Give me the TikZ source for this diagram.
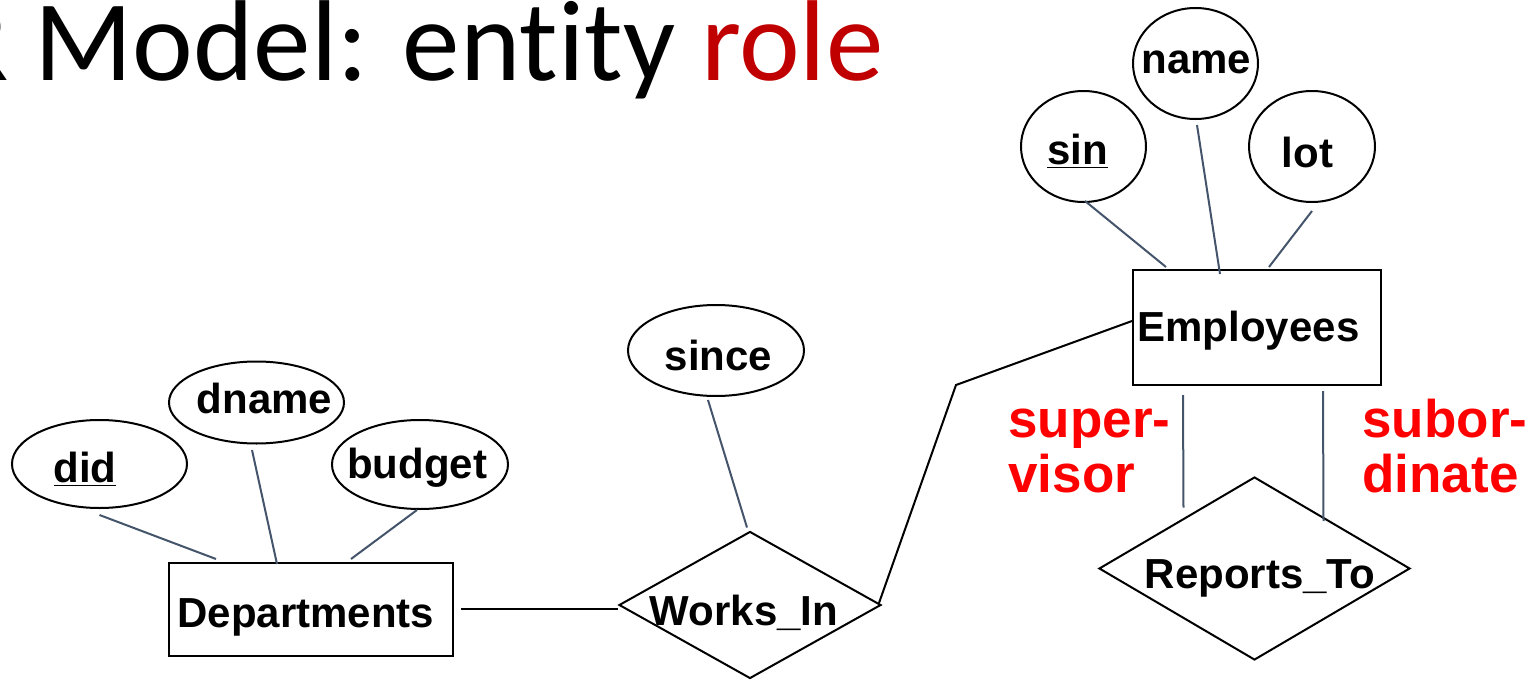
\documentclass[tikz,border=0pt]{standalone}
\usepackage{fontspec}
\setmainfont{Liberation Sans}
\newfontfamily\titlefont{Carlito}[Ligatures=NoCommon]
\usetikzlibrary{shapes.geometric,calc}

\definecolor{slate}{HTML}{44546A}
\definecolor{titlered}{HTML}{C00000}
\definecolor{rolered}{HTML}{FF0000}

% label inside a shape, moved sideways by #1 and raised by #2
\newcommand{\erlbl}[3]{\makebox[0pt]{\hspace*{#1}\raisebox{#2}{#3}}}

\begin{document}
\begin{tikzpicture}[x=0.5pt,y=-0.5pt,
	ertext/.style={font=\fontsize{21}{25}\selectfont\bfseries,text height=18pt,text depth=0pt,inner sep=0pt},
	entity/.style={ertext,draw,line width=1pt},
	attrib/.style={ertext,draw,ellipse,line width=1pt},
	relship/.style={ertext,draw,diamond,line width=1pt},
	attline/.style={slate,line width=1pt},
	roletext/.style={anchor=base west,align=left,inner sep=0pt,text=rolered,font=\fontsize{26.5}{27.5}\selectfont\bfseries}]
	\useasboundingbox (0,0) rectangle (1539,680);

	\node[anchor=base east,inner sep=0pt,font=\titlefont\fontsize{57.5}{60}\selectfont] (title) at (884,80) {R Model: entity \textcolor{titlered}{role}};

	% entities and relationships
	\node[entity,minimum width=142pt,minimum height=46.5pt] (dept) at (311,609.5) {\erlbl{-5pt}{0pt}{Departments}};
	\node[entity,minimum width=124pt,minimum height=57.5pt] (emp) at (1257,327.5) {\erlbl{-8.5pt}{2.25pt}{Employees}};
	\node[relship,minimum width=131pt,minimum height=73.5pt] (works) at (750,605) {\erlbl{-6pt}{-1pt}{Works\_In}};
	\node[relship,minimum width=155.5pt,minimum height=91.5pt] (rep) at (1254.5,568.5) {\erlbl{5.5pt}{-0.75pt}{Reports\_To}};

	% attributes
	\node[attrib,minimum width=87.5pt,minimum height=44pt] (did) at (99.5,464) {\erlbl{-14.5pt}{0pt}{\underline{did}}};
	\node[attrib,minimum width=87.5pt,minimum height=41pt] (dname) at (256.5,402.5) {\erlbl{8pt}{3.75pt}{dname}};
	\node[attrib,minimum width=88pt,minimum height=44.5pt] (budget) at (420,464.5) {\erlbl{-3pt}{2.25pt}{budget}};
	\node[attrib,minimum width=88pt,minimum height=45.5pt] (since) at (716,350.5) {\erlbl{2.5pt}{-0.75pt}{since}};
	\node[attrib,minimum width=62.5pt,minimum height=55.5pt] (sin) at (1083.5,146.5) {\erlbl{-6pt}{0pt}{\underline{sin}}};
	\node[attrib,minimum width=62.5pt,minimum height=55.5pt] (name) at (1195.5,63.5) {\erlbl{1pt}{3.75pt}{name}};
	\node[attrib,minimum width=63pt,minimum height=55.5pt] (lot) at (1312,146.5) {\erlbl{-4.5pt}{-1.25pt}{lot}};

	% roles (base is the second line)
	\node[roletext] (super) at (1008,492) {super-\\visor};
	\node[roletext] (subor) at (1362,492) {subor-\\dinate};

	% attribute links
	\draw[attline] ($(did.south)+(0,6)$) -- ($(dept.north west)+(48,-3)$);
	\draw[attline] ($(dname.south)+(-4.5,5.5)$) -- ($(dept.north)+(-34,2)$);
	\draw[attline] ($(budget.south)+(-3,0)$) -- ($(dept.north east)+(-103,-3)$);
	\draw[attline] ($(since.south)+(-8,3)$) -- ($(works.north)+(-3,-3)$);
	\draw[attline] ($(sin.south)+(1.5,-2)$) -- ($(emp.north west)+(34,-2)$);
	\draw[attline] ($(name.south)+(1.5,5)$) -- ($(emp.north)+(-37,5)$);
	\draw[attline] ($(lot.south)+(0,8)$) -- ($(emp.north)+(12,-2)$);

	% relationship links
	\draw[line width=1pt] ($(dept.east)+(7,-1)$) coordinate (dw) -- (dw -| works.west);
	\coordinate (bend) at (956,385);
	\draw[line width=1pt] ($(works.east)+(-3,-2)$) -- (bend) -- ($(emp.west)+(0,-6.5)$);
	\draw[attline] ($(emp.south)+(-74,9)$) -- ($(rep.north)+(-71,31.5)$);
	\draw[attline] ($(emp.south)+(66,5)$) -- ($(rep.north)+(69,45)$);
\end{tikzpicture}
\end{document}
